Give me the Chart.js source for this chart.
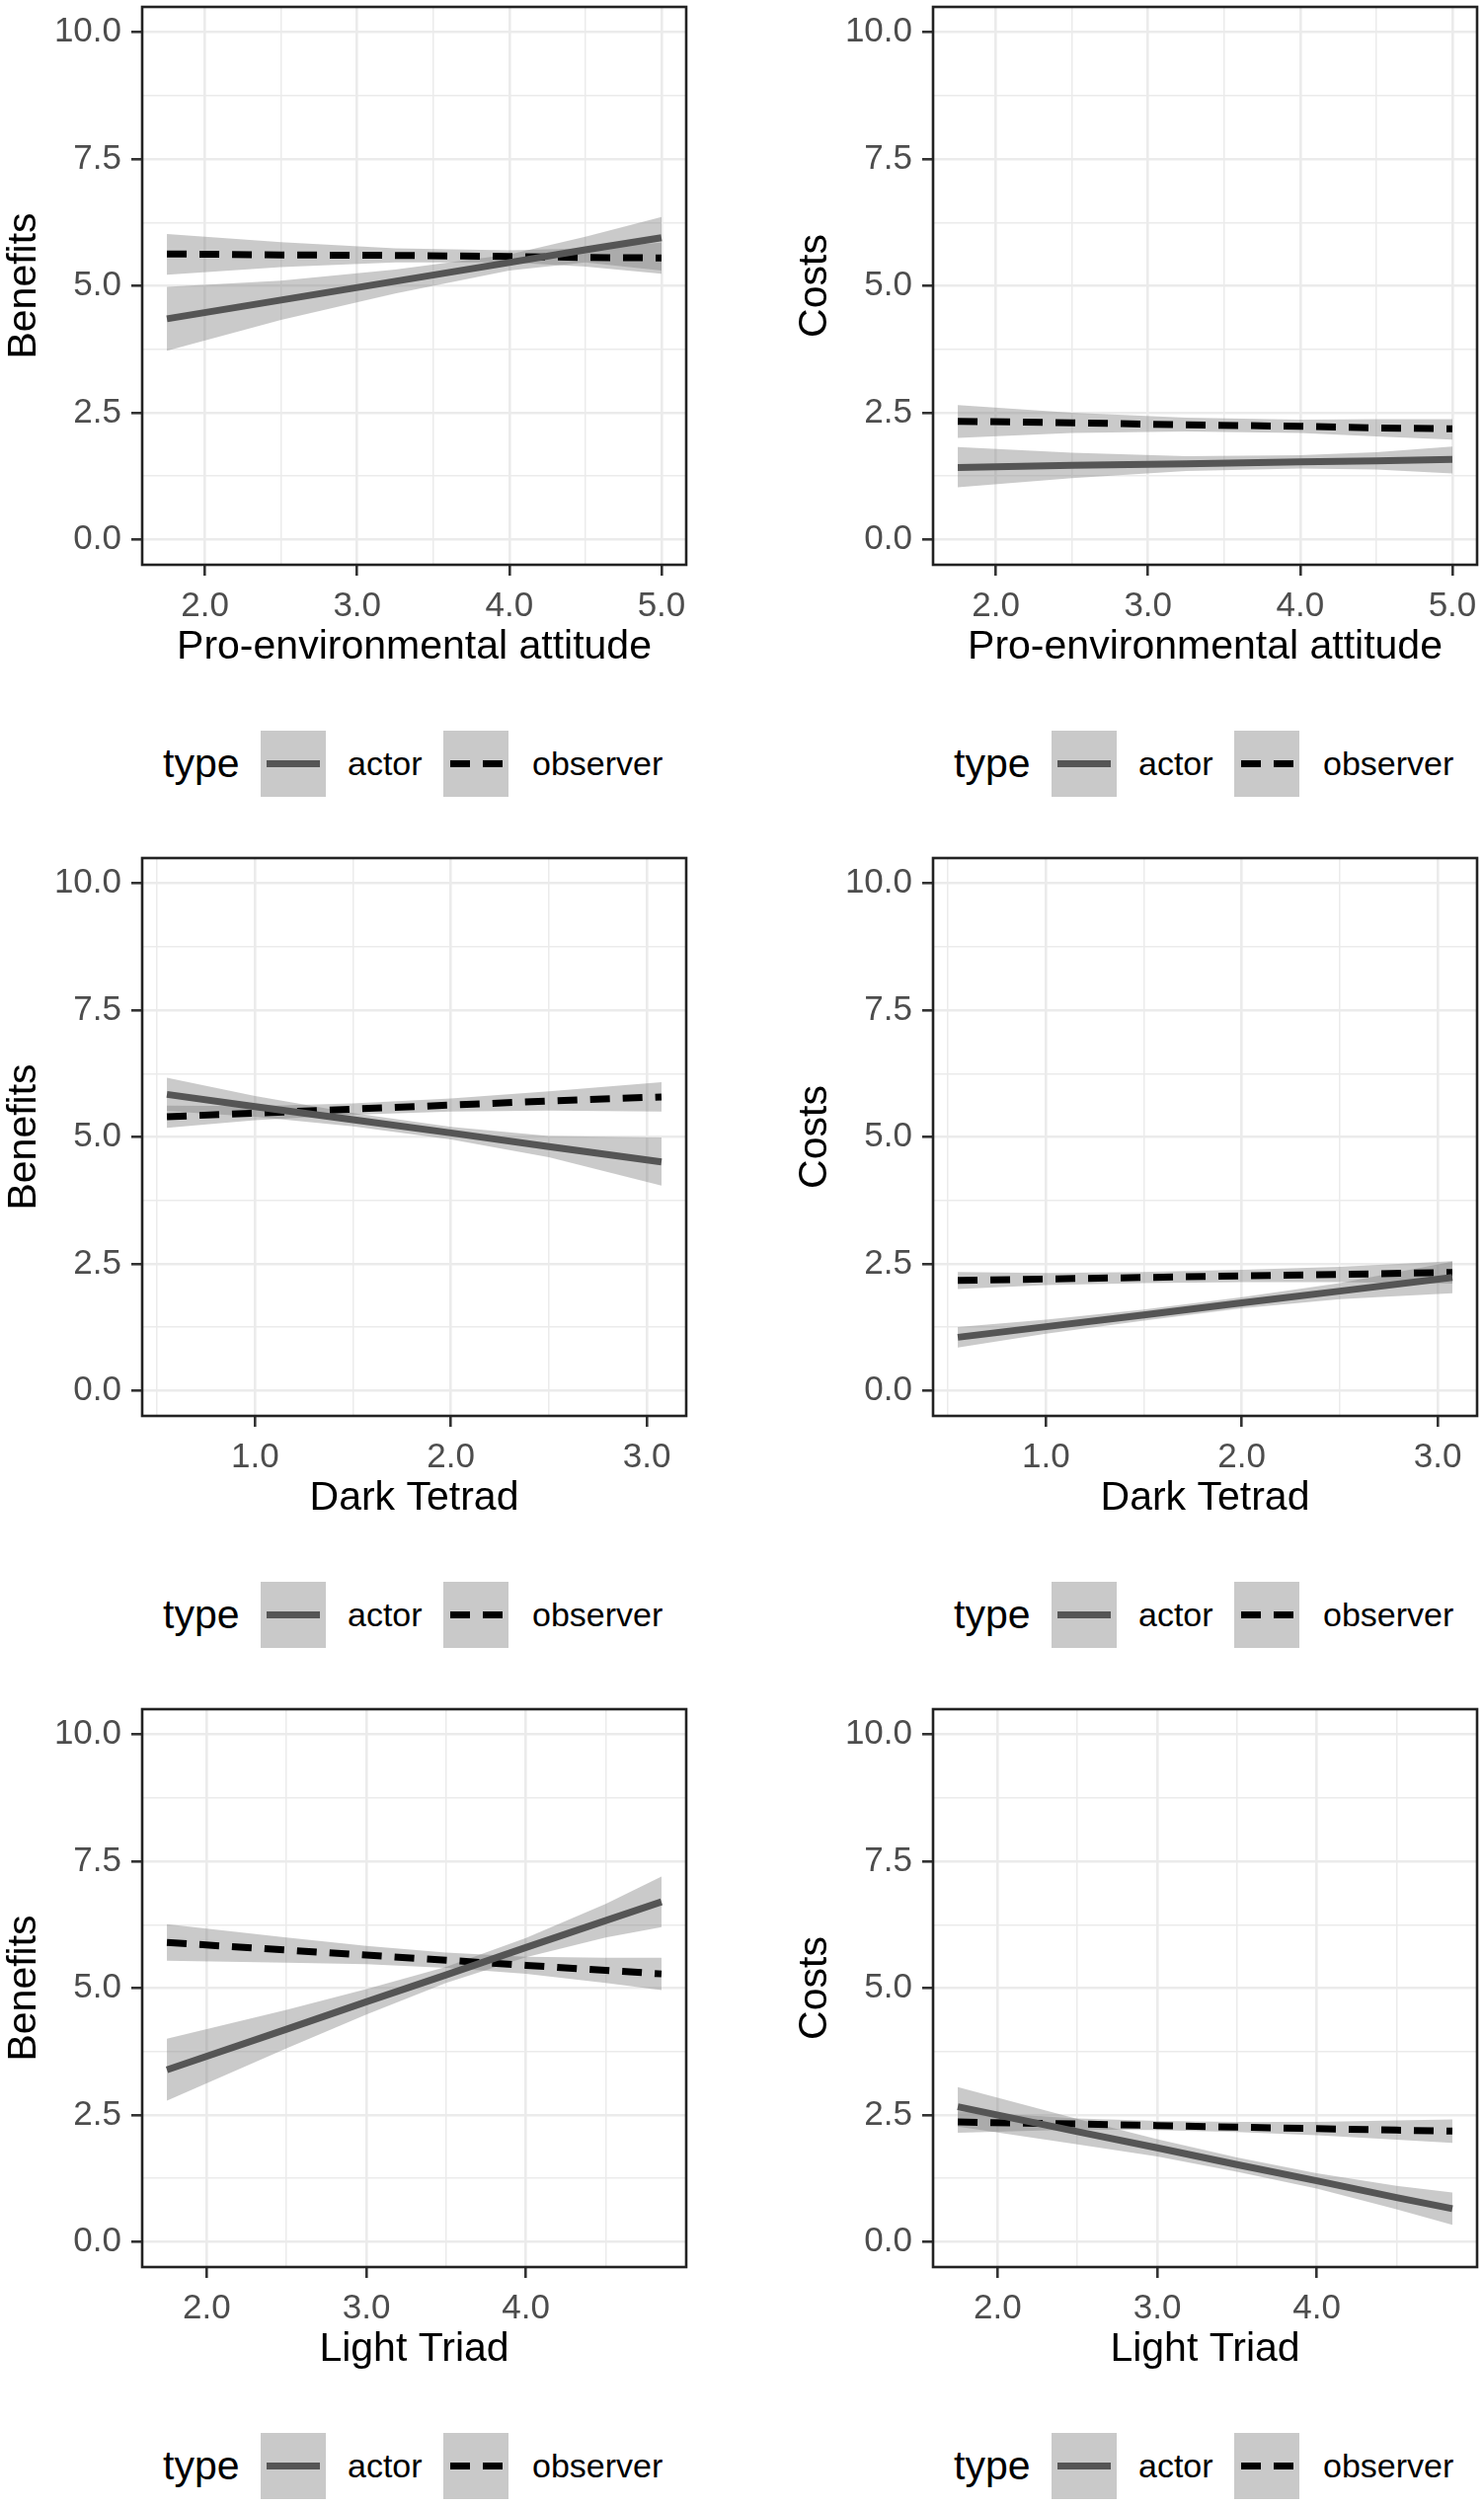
<!DOCTYPE html>
<html>
<head>
<meta charset="utf-8">
<script src="https://cdn.jsdelivr.net/npm/chart.js@4.4.1/dist/chart.umd.min.js"></script>
<style>
  body { margin: 0; background: #fff; width: 1503px; height: 2538px; position: relative; overflow: hidden;
         font-family: "Liberation Sans", Arial, sans-serif; }
  .panel { position: absolute; }
  .legend { position: absolute; height: 67px; width: 702px; }
  .legend .txt { position: absolute; top: 0; height: 67px; display: flex; align-items: center; color: #000; }
  .legend .key { position: absolute; top: 0; width: 66px; height: 67px; background: #c9c9c9; }
</style>
</head>
<body>
<script>
const proEnvX = [1.75, 2.5, 3.25, 4.0, 4.5, 5.0];
const darkX = [0.55, 1.0, 1.5, 2.0, 2.5, 3.075];
const lightX = [1.75, 2.5, 3.0, 3.5, 4.0, 4.5, 4.85];

// tick labels
const yTicks = [0, 2.5, 5, 7.5, 10];
const proEnvTicks = [2, 3, 4, 5];
const darkTicks = [1, 2, 3];
const lightTicks = [2, 3, 4];

// Benefits ~ Pro-environmental attitude
const benProActor = [4.35, 4.72, 5.09, 5.46, 5.71, 5.95];
const benProActorLow = [3.72, 4.33, 4.85, 5.30, 5.46, 5.30];
const benProActorHigh = [4.98, 5.10, 5.32, 5.62, 5.97, 6.36];
const benProObs = [5.63, 5.61, 5.60, 5.58, 5.56, 5.55];
const benProObsLow = [5.22, 5.37, 5.46, 5.46, 5.38, 5.24];
const benProObsHigh = [6.02, 5.86, 5.74, 5.70, 5.74, 5.85];

// Costs ~ Pro-environmental attitude
const costProActor = [1.42, 1.46, 1.49, 1.53, 1.55, 1.58];
const costProActorLow = [1.03, 1.21, 1.35, 1.40, 1.38, 1.30];
const costProActorHigh = [1.82, 1.71, 1.64, 1.66, 1.72, 1.83];
const costProObs = [2.33, 2.30, 2.26, 2.23, 2.20, 2.18];
const costProObsLow = [2.00, 2.10, 2.13, 2.10, 2.03, 1.97];
const costProObsHigh = [2.65, 2.50, 2.40, 2.36, 2.37, 2.37];

// Benefits ~ Dark Tetrad
const benDarkActor = [5.84, 5.60, 5.34, 5.08, 4.81, 4.51];
const benDarkActorLow = [5.51, 5.40, 5.21, 4.95, 4.60, 4.04];
const benDarkActorHigh = [6.17, 5.81, 5.47, 5.20, 5.02, 4.99];
const benDarkObs = [5.40, 5.47, 5.55, 5.63, 5.71, 5.79];
const benDarkObsLow = [5.18, 5.33, 5.44, 5.50, 5.52, 5.50];
const benDarkObsHigh = [5.62, 5.61, 5.66, 5.76, 5.90, 6.08];

// Costs ~ Dark Tetrad
const costDarkActor = [1.05, 1.26, 1.49, 1.73, 1.96, 2.23];
const costDarkActorLow = [0.85, 1.12, 1.38, 1.62, 1.80, 1.92];
const costDarkActorHigh = [1.25, 1.40, 1.60, 1.84, 2.12, 2.54];
const costDarkObs = [2.17, 2.20, 2.23, 2.26, 2.29, 2.33];
const costDarkObsLow = [2.00, 2.08, 2.12, 2.14, 2.14, 2.11];
const costDarkObsHigh = [2.34, 2.32, 2.34, 2.38, 2.44, 2.55];

// Benefits ~ Light Triad
const benLightActor = [3.39, 4.19, 4.73, 5.26, 5.80, 6.33, 6.70];
const benLightActorLow = [2.78, 3.81, 4.48, 5.10, 5.61, 6.00, 6.20];
const benLightActorHigh = [4.00, 4.57, 4.98, 5.42, 5.99, 6.66, 7.20];
const benLightObs = [5.90, 5.75, 5.65, 5.55, 5.45, 5.35, 5.28];
const benLightObsLow = [5.54, 5.50, 5.47, 5.40, 5.28, 5.10, 4.96];
const benLightObsHigh = [6.26, 6.00, 5.83, 5.70, 5.62, 5.60, 5.60];

// Costs ~ Light Triad
const costLightActor = [2.66, 2.17, 1.85, 1.52, 1.20, 0.87, 0.65];
const costLightActorLow = [2.27, 1.92, 1.68, 1.38, 1.05, 0.64, 0.33];
const costLightActorHigh = [3.05, 2.42, 2.02, 1.66, 1.35, 1.10, 0.97];
const costLightObs = [2.36, 2.32, 2.29, 2.26, 2.23, 2.20, 2.18];
const costLightObsLow = [2.15, 2.21, 2.20, 2.16, 2.10, 2.01, 1.95];
const costLightObsHigh = [2.57, 2.43, 2.38, 2.36, 2.36, 2.39, 2.41];

const FONT = '"Liberation Sans", Arial, sans-serif';
const ROW_H = 862, COL_W = 801;
const BAND = 'rgba(128,128,128,0.42)';

const panels = [
  { row: 0, col: 0, xs: proEnvX, xt: proEnvTicks, xTitle: 'Pro-environmental attitude', yTitle: 'Benefits',
    a: [benProActor, benProActorLow, benProActorHigh], o: [benProObs, benProObsLow, benProObsHigh] },
  { row: 0, col: 1, xs: proEnvX, xt: proEnvTicks, xTitle: 'Pro-environmental attitude', yTitle: 'Costs',
    a: [costProActor, costProActorLow, costProActorHigh], o: [costProObs, costProObsLow, costProObsHigh] },
  { row: 1, col: 0, xs: darkX, xt: darkTicks, xTitle: 'Dark Tetrad', yTitle: 'Benefits',
    a: [benDarkActor, benDarkActorLow, benDarkActorHigh], o: [benDarkObs, benDarkObsLow, benDarkObsHigh] },
  { row: 1, col: 1, xs: darkX, xt: darkTicks, xTitle: 'Dark Tetrad', yTitle: 'Costs',
    a: [costDarkActor, costDarkActorLow, costDarkActorHigh], o: [costDarkObs, costDarkObsLow, costDarkObsHigh] },
  { row: 2, col: 0, xs: lightX, xt: lightTicks, xTitle: 'Light Triad', yTitle: 'Benefits',
    a: [benLightActor, benLightActorLow, benLightActorHigh], o: [benLightObs, benLightObsLow, benLightObsHigh] },
  { row: 2, col: 1, xs: lightX, xt: lightTicks, xTitle: 'Light Triad', yTitle: 'Costs',
    a: [costLightActor, costLightActorLow, costLightActorHigh], o: [costLightObs, costLightObsLow, costLightObsHigh] }
];

// black box around the panel, like ggplot's panel.border
const panelBorder = {
  id: 'panelBorder',
  afterDraw(chart) {
    const { ctx, chartArea: a } = chart;
    ctx.save();
    ctx.strokeStyle = '#222';
    ctx.lineWidth = 2.6;
    ctx.strokeRect(a.left, a.top, a.right - a.left, a.bottom - a.top);
    ctx.restore();
  }
};

function pts(xs, ys) {
  return xs.map((x, i) => ({ x: x, y: ys[i] }));
}

function axis(min, max, majors, title, fixed, horizontal) {
  const minors = [];
  for (let i = 0; i <= majors.length; i++) {
    const step = majors[1] - majors[0];
    const m = (i < majors.length ? majors[i] : majors[i - 1] + step) - step / 2;
    if (m > min && m < max) minors.push(m);
  }
  const all = majors.concat(minors).sort((p, q) => p - q);
  const isMajor = v => majors.some(m => Math.abs(m - v) < 1e-9);
  return {
    type: 'linear', min: min, max: max,
    afterBuildTicks: s => { s.ticks = all.map(v => ({ value: v })); },
    afterFit: s => {
      if (horizontal) s.height = fixed; else s.width = fixed;
      // no extra room for half-labels at the ends, the plot box is placed by hand
      s.paddingTop = 0; s.paddingBottom = 0; s.paddingLeft = 0; s.paddingRight = 0;
    },
    ticks: {
      autoSkip: false, maxRotation: 0, padding: 10, color: '#4d4d4d',
      font: { size: 35, family: FONT },
      callback: v => isMajor(v) ? v.toFixed(1) : ''
    },
    grid: {
      color: '#ebebeb',
      lineWidth: c => (c.tick && isMajor(c.tick.value)) ? 2.6 : 1.5,
      tickLength: 11,
      tickWidth: 2.6,
      tickColor: c => (c.tick && isMajor(c.tick.value)) ? '#333' : 'rgba(0,0,0,0)'
    },
    border: { display: false },
    title: { display: true, text: title, color: '#000', font: { size: 41, family: FONT }, padding: 0 }
  };
}

function addLegend(left, top) {
  const lg = document.createElement('div');
  lg.className = 'legend';
  lg.style.left = left + 'px';
  lg.style.top = top + 'px';
  lg.innerHTML =
    '<div class="txt" style="left:165px;font-size:41px">type</div>' +
    '<div class="key" style="left:264px"><svg width="66" height="67"><line x1="6" x2="60" y1="33.5" y2="33.5" stroke="#555" stroke-width="7"/></svg></div>' +
    '<div class="txt" style="left:352px;font-size:34px">actor</div>' +
    '<div class="key" style="left:449px"><svg width="66" height="67"><line x1="7" x2="60" y1="33.5" y2="33.5" stroke="#000" stroke-width="7" stroke-dasharray="20 13"/></svg></div>' +
    '<div class="txt" style="left:539px;font-size:34px">observer</div>';
  document.body.appendChild(lg);
}

panels.forEach(p => {
  const left = p.col * COL_W, top = p.row * ROW_H;
  const div = document.createElement('div');
  div.className = 'panel';
  div.style.left = left + 'px';
  div.style.top = top + 'px';
  const cv = document.createElement('canvas');
  cv.width = 702; cv.height = 680;
  div.appendChild(cv);
  document.body.appendChild(div);

  // ggplot default 5% expansion of the data range
  const x0 = p.xs[0], x1 = p.xs[p.xs.length - 1], pad = (x1 - x0) * 0.05;

  new Chart(cv.getContext('2d'), {
    type: 'line',
    data: {
      datasets: [
        { label: 'actor', data: pts(p.xs, p.a[0]), borderColor: '#555', borderWidth: 7, pointRadius: 0, fill: false },
        { label: 'observer', data: pts(p.xs, p.o[0]), borderColor: '#000', borderWidth: 7, borderDash: [20, 13], pointRadius: 0, fill: false },
        { label: 'actor hi', data: pts(p.xs, p.a[2]), borderWidth: 0, pointRadius: 0, backgroundColor: BAND, fill: '+1' },
        { label: 'actor lo', data: pts(p.xs, p.a[1]), borderWidth: 0, pointRadius: 0, fill: false },
        { label: 'observer hi', data: pts(p.xs, p.o[2]), borderWidth: 0, pointRadius: 0, backgroundColor: BAND, fill: '+1' },
        { label: 'observer lo', data: pts(p.xs, p.o[1]), borderWidth: 0, pointRadius: 0, fill: false }
      ]
    },
    options: {
      responsive: false,
      devicePixelRatio: 1,
      animation: false,
      layout: { padding: { top: 7, right: 7, left: 0, bottom: 0 } },
      plugins: { legend: { display: false }, tooltip: { enabled: false } },
      scales: {
        x: axis(x0 - pad, x1 + pad, p.xt, p.xTitle, 108, true),
        y: axis(-0.5, 10.5, yTicks, p.yTitle, 144, false)
      }
    },
    plugins: [panelBorder]
  });

  addLegend(left, top + 740);
});
</script>
</body>
</html>
